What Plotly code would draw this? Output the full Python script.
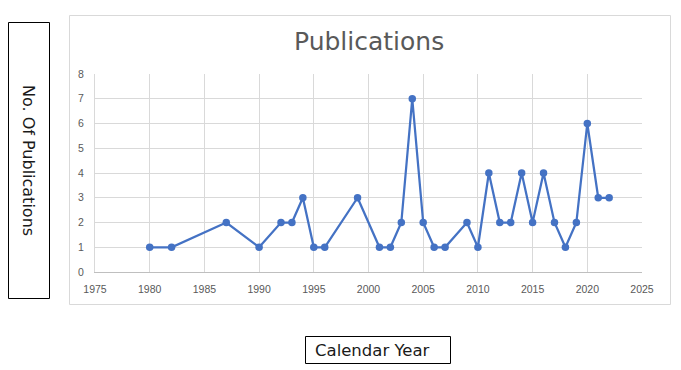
import plotly.graph_objects as go

years = [1980, 1982, 1987, 1990, 1992, 1993, 1994, 1995, 1996, 1999, 2001, 2002, 2003,
         2004, 2005, 2006, 2007, 2009, 2010, 2011, 2012, 2013, 2014, 2015, 2016, 2017,
         2018, 2019, 2020, 2021, 2022]
publications = [1, 1, 2, 1, 2, 2, 3, 1, 1, 3, 1, 1, 2,
                7, 2, 1, 1, 2, 1, 4, 2, 2, 4, 2, 4, 2,
                1, 2, 6, 3, 3]
x_ticks = [1975, 1980, 1985, 1990, 1995, 2000, 2005, 2010, 2015, 2020, 2025]
y_ticks = [0, 1, 2, 3, 4, 5, 6, 7, 8]

# page body has an 8px margin; figure sized to fit the remaining viewport
OFF = 8
W, H = 681 - OFF, 370 - OFF
def px(x):
    return (x - OFF) / W
def py(y):
    return 1 - (y - OFF) / H

fig = go.Figure()
fig.add_trace(go.Scatter(
    x=years, y=publications, mode="lines+markers",
    line=dict(color="#4472C4", width=2.25),
    marker=dict(color="#4472C4", size=7.5),
    showlegend=False, cliponaxis=False,
))

grid = "#d9d9d9"
tickfont = dict(family="Liberation Sans, Arial, sans-serif", size=10.5, color="#595959")

fig.update_layout(
    width=W, height=H, autosize=False,
    margin=dict(l=0, r=0, t=0, b=0, pad=0, autoexpand=False),
    paper_bgcolor="white", plot_bgcolor="white",
    xaxis=dict(domain=[px(95), px(642)], range=[1975, 2025], tickvals=x_ticks,
               showgrid=True, gridcolor=grid, gridwidth=1, zeroline=False,
               showline=True, linecolor="#bfbfbf", linewidth=1, mirror=False,
               ticks="", tickfont=tickfont, ticklabelstandoff=7,
               automargin=False, fixedrange=True),
    yaxis=dict(domain=[py(272), py(74)], range=[0, 8], tickvals=y_ticks,
               showgrid=True, gridcolor=grid, gridwidth=1, zeroline=False,
               showline=True, linecolor=grid, linewidth=1,
               ticks="", tickfont=tickfont, ticklabelstandoff=8,
               automargin=False, fixedrange=True),
    shapes=[
        dict(type="rect", xref="paper", yref="paper",
             x0=px(69.5), x1=px(670.5), y0=py(15.5), y1=py(304.5),
             line=dict(color="#d9d9d9", width=1), fillcolor="rgba(0,0,0,0)", layer="below"),
        dict(type="rect", xref="paper", yref="paper",
             x0=px(8.5), x1=px(49.5), y0=py(22.5), y1=py(298.5),
             line=dict(color="black", width=1), fillcolor="white"),
        dict(type="rect", xref="paper", yref="paper",
             x0=px(305.5), x1=px(450.5), y0=py(336.5), y1=py(363.5),
             line=dict(color="black", width=1), fillcolor="white"),
    ],
    annotations=[
        dict(text="Publications", xref="paper", yref="paper", x=px(369), y=py(42),
             xanchor="center", yanchor="middle", showarrow=False,
             font=dict(family="DejaVu Sans, sans-serif", size=25, color="#595959")),
        dict(text="No. Of Publications", xref="paper", yref="paper", x=px(29), y=py(160),
             xanchor="center", yanchor="middle", showarrow=False, textangle=90,
             font=dict(family="DejaVu Sans, sans-serif", size=16, color="#1a1a1a")),
        dict(text="Calendar Year", xref="paper", yref="paper", x=px(372), y=py(350),
             xanchor="center", yanchor="middle", showarrow=False,
             font=dict(family="DejaVu Sans, sans-serif", size=16.5, color="#1a1a1a")),
    ],
)

fig.write_html("out.html")
